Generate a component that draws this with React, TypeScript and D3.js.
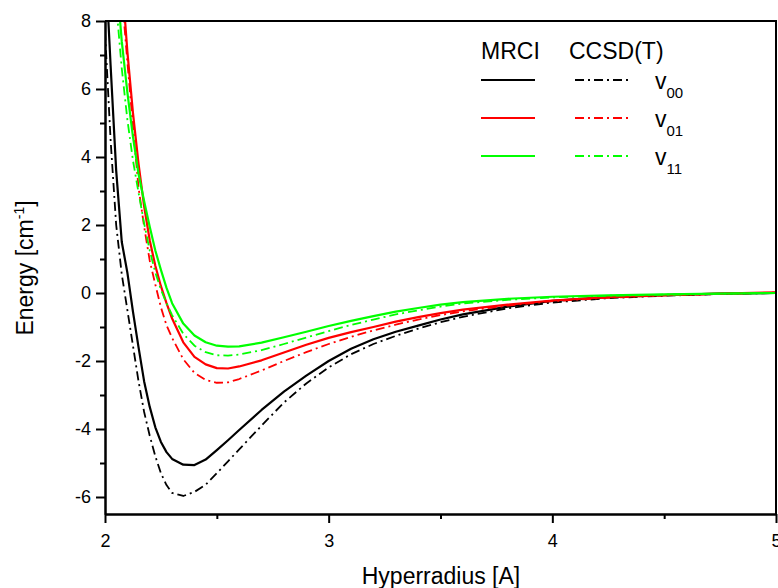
import React, { useEffect, useRef } from 'react';
import * as d3 from 'd3';

// hyperradius grid [A]
const hyperradius = [
  2.0, 2.025, 2.05, 2.075, 2.1, 2.125, 2.15, 2.175, 2.2, 2.225, 2.25, 2.275, 2.3,
  2.35, 2.4, 2.45, 2.5, 2.55, 2.6, 2.7, 2.8, 2.9, 3.0, 3.1, 3.2, 3.3, 3.4, 3.5,
  3.6, 3.8, 4.0, 4.25, 4.5, 4.75, 5.0,
];

// energies [cm-1]
const mrciV00 = [
  10.0, 6.7, 3.6, 1.5, 0.6, -0.55, -1.6, -2.6, -3.35, -3.95, -4.38, -4.68, -4.88,
  -5.05, -5.06, -4.9, -4.62, -4.33, -4.03, -3.44, -2.9, -2.43, -2.0, -1.64, -1.36,
  -1.14, -0.96, -0.78, -0.63, -0.4, -0.23, -0.12, -0.06, -0.02, 0.0,
];
const ccsdV00 = [
  7.7, 4.5, 2.0, 0.55, -0.5, -1.55, -2.6, -3.5, -4.2, -4.8, -5.3, -5.65, -5.88,
  -5.97, -5.85, -5.64, -5.3, -4.95, -4.6, -3.9, -3.22, -2.66, -2.19, -1.8, -1.5,
  -1.26, -1.05, -0.86, -0.7, -0.45, -0.28, -0.15, -0.08, -0.03, 0.0,
];
const mrciV01 = [
  20, 16, 12.5, 9.3, 7.1, 5.3, 3.8, 2.55, 1.55, 0.8, 0.2, -0.3, -0.75,
  -1.45, -1.88, -2.1, -2.21, -2.22, -2.16, -1.98, -1.75, -1.52, -1.32, -1.15, -1.0,
  -0.84, -0.71, -0.59, -0.49, -0.34, -0.22, -0.12, -0.06, -0.02, 0.02,
];
const ccsdV01 = [
  19, 15, 11.5, 8.8, 6.8, 4.9, 3.1, 1.95, 0.95, 0.25, -0.42, -0.95, -1.32,
  -1.95, -2.35, -2.56, -2.64, -2.63, -2.53, -2.28, -2.0, -1.74, -1.5, -1.29, -1.1,
  -0.93, -0.78, -0.65, -0.54, -0.37, -0.24, -0.14, -0.07, -0.03, 0.01,
];
const mrciV11 = [
  16, 12.5, 9.4, 7.4, 5.9, 4.6, 3.5, 2.7, 1.95, 1.25, 0.68, 0.15, -0.3,
  -0.9, -1.25, -1.45, -1.55, -1.58, -1.57, -1.46, -1.3, -1.14, -0.97, -0.82, -0.68,
  -0.55, -0.44, -0.34, -0.27, -0.17, -0.11, -0.07, -0.04, -0.02, 0.0,
];
const ccsdV11 = [
  15, 11.5, 8.5, 6.6, 5.1, 3.9, 2.95, 2.05, 1.25, 0.6, 0.1, -0.3, -0.65,
  -1.2, -1.55, -1.74, -1.83, -1.84, -1.81, -1.68, -1.5, -1.31, -1.12, -0.94, -0.78,
  -0.63, -0.51, -0.4, -0.31, -0.2, -0.13, -0.08, -0.05, -0.02, 0.0,
];

const xTicks = [2, 3, 4, 5];
const xMinorTicks = [2.5, 3.5, 4.5];
const yTicks = [-6, -4, -2, 0, 2, 4, 6, 8];
const yMinorTicks = [-5, -3, -1, 1, 3, 5, 7];

const levels = ['00', '01', '11'];
const colors = ['#000000', '#ff0000', '#00ff00'];

const FONT = '"Liberation Sans", Arial, sans-serif';
const DASHDOT = '9,4,2,4';

const App = () => {
  const ref = useRef<SVGSVGElement>(null);

  useEffect(() => {
    const W = 778;
    const H = 588;
    const left = 105;
    const right = 776;
    const top = 21;
    const bottom = 514;

    const svg = d3.select(ref.current);
    svg.selectAll('*').remove();

    const x = d3.scaleLinear().domain([2, 5]).range([left, right]);
    const y = d3.scaleLinear().domain([-6.5, 8]).range([bottom, top]);

    svg.append('defs')
      .append('clipPath')
      .attr('id', 'plotClip')
      .append('rect')
      .attr('x', left)
      .attr('y', top)
      .attr('width', right - left)
      .attr('height', bottom - top);

    const series = [
      { values: mrciV00, color: colors[0], dash: null },
      { values: ccsdV00, color: colors[0], dash: DASHDOT },
      { values: mrciV01, color: colors[1], dash: null },
      { values: ccsdV01, color: colors[1], dash: DASHDOT },
      { values: mrciV11, color: colors[2], dash: null },
      { values: ccsdV11, color: colors[2], dash: DASHDOT },
    ];

    const line = d3.line<number>()
      .x((_, i) => x(hyperradius[i]))
      .y((d) => y(d));

    const curves = svg.append('g').attr('clip-path', 'url(#plotClip)');
    series.forEach((s) => {
      curves.append('path')
        .datum(s.values)
        .attr('d', line)
        .attr('fill', 'none')
        .attr('stroke', s.color)
        .attr('stroke-width', s.dash ? 1.8 : 2.2)
        .attr('stroke-dasharray', s.dash)
        .attr('stroke-linejoin', 'round');
    });

    // frame (top + right)
    svg.append('path')
      .attr('d', `M${left},${top}H${right}V${bottom}`)
      .attr('fill', 'none')
      .attr('stroke', '#000')
      .attr('stroke-width', 2);

    const fmt = (d: d3.NumberValue) => String(d);

    // x axis
    const gx = svg.append('g').attr('transform', `translate(0,${bottom})`);
    gx.call(d3.axisBottom(x).tickValues(xTicks).tickSize(9).tickSizeOuter(0).tickFormat(fmt));
    svg.append('g').attr('transform', `translate(0,${bottom})`)
      .call(d3.axisBottom(x).tickValues(xMinorTicks).tickSize(5).tickSizeOuter(0).tickFormat(() => ''));

    // y axis
    const gy = svg.append('g').attr('transform', `translate(${left},0)`);
    gy.call(d3.axisLeft(y).tickValues(yTicks).tickSize(9).tickSizeOuter(0).tickFormat(fmt));
    svg.append('g').attr('transform', `translate(${left},0)`)
      .call(d3.axisLeft(y).tickValues(yMinorTicks).tickSize(5).tickSizeOuter(0).tickFormat(() => ''));

    svg.selectAll('.domain').attr('stroke-width', 2);
    svg.selectAll('.tick line').attr('stroke-width', 2);
    svg.selectAll('.tick text')
      .attr('font-family', FONT)
      .attr('font-size', 18)
      .attr('fill', '#000');
    gx.selectAll('.tick text').attr('dy', '1.15em');
    gy.selectAll('.tick text').attr('x', -14);

    // axis titles
    svg.append('text')
      .attr('x', 441)
      .attr('y', 584)
      .attr('text-anchor', 'middle')
      .attr('font-family', FONT)
      .attr('font-size', 23)
      .text('Hyperradius [A]');

    const yt = svg.append('text')
      .attr('transform', `translate(33,268) rotate(-90)`)
      .attr('text-anchor', 'middle')
      .attr('font-family', FONT)
      .attr('font-size', 23);
    yt.append('tspan').text('Energy [cm');
    yt.append('tspan').attr('font-size', 14).attr('dy', -9).text('-1');
    yt.append('tspan').attr('dy', 9).text(']');

    // legend
    const lg = svg.append('g').attr('font-family', FONT);
    lg.append('text').attr('x', 481).attr('y', 59).attr('font-size', 23).text('MRCI');
    lg.append('text').attr('x', 569).attr('y', 59).attr('font-size', 23).text('CCSD(T)');
    const rowY = d3.scaleLinear().domain([0, 2]).range([80, 156]);
    levels.forEach((lv, i) => {
      const yy = rowY(i);
      lg.append('line')
        .attr('x1', 481).attr('x2', 535).attr('y1', yy).attr('y2', yy)
        .attr('stroke', colors[i]).attr('stroke-width', 2.2);
      lg.append('line')
        .attr('x1', 575).attr('x2', 628).attr('y1', yy).attr('y2', yy)
        .attr('stroke', colors[i]).attr('stroke-width', 1.8)
        .attr('stroke-dasharray', DASHDOT);
      const t = lg.append('text').attr('x', 655).attr('y', yy + 9).attr('font-size', 23);
      t.append('tspan').text('v');
      t.append('tspan').attr('font-size', 15).attr('dy', 9).text(lv);
    });

    svg.attr('width', W).attr('height', H);
  }, []);

  return (
    <svg
      ref={ref}
      width={778}
      height={588}
      style={{ position: 'absolute', left: 0, top: 0, background: '#fff' }}
    />
  );
};

export default App;
